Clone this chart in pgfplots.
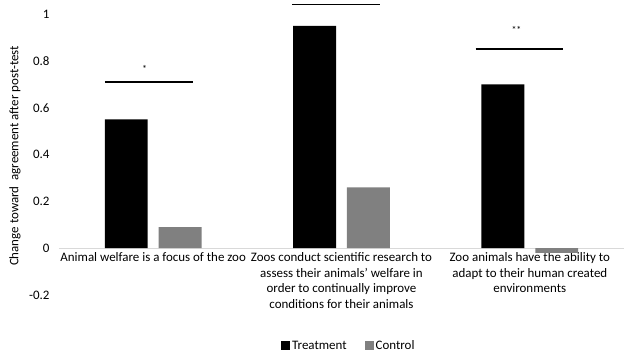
\documentclass[border=0pt]{standalone}
\usepackage{pgfplots}
\pgfplotsset{compat=1.18}
\usepackage{fontspec}
\setmainfont{Carlito}
\definecolor{ctrlgray}{HTML}{808080}
\definecolor{zerogray}{HTML}{D9D9D9}
\begin{document}
\begin{tikzpicture}
\begin{axis}[
  scale only axis,
  width=565bp, height=295bp,
  xmin=-0.5, xmax=2.5,
  ymin=-0.2, ymax=1.06,
  axis x line*=middle,
  axis y line*=left,
  x axis line style={draw=zerogray, line width=1bp, -},
  y axis line style={draw=none},
  xtick={0,1,2},
  xticklabels={
    Animal welfare is a focus of the zoo,
    {Zoos conduct scientific research to\\assess their animals' welfare in\\order to continually improve\\conditions for their animals},
    {Zoo animals have the ability to\\adapt to their human created\\environments}},
  xticklabel style={align=center, font=\fontsize{13}{15.7}\selectfont, anchor=north, yshift=-1bp},
  ytick={-0.2,0,0.2,0.4,0.6,0.8,1},
  yticklabels={-0.2,0,0.2,0.4,0.6,0.8,1},
  yticklabel style={font=\fontsize{13}{15}\selectfont, xshift=-6bp},
  major tick length=0pt,
  ylabel={Change toward\ \ agreement after post-test},
  every axis y label/.style={at={(axis description cs:-0.078,0.471)}, rotate=90, anchor=center, font=\fontsize{13}{15}\selectfont},
  ybar, bar width=0.228,
  clip=false,
  legend style={at={(0.513,-0.173)}, anchor=center, draw=none, legend columns=2,
    font=\fontsize{13}{15}\selectfont,
    /tikz/every even column/.append style={column sep=16bp}},
  legend image code/.code={\fill[#1] (0bp,-3.5bp) rectangle (9bp,5bp);},
]
% Treatment group
\addplot[fill=black, draw=none, bar shift=-0.143] coordinates {(0,0.55) (1,0.95) (2,0.70)};
% Control group
\addplot[fill=ctrlgray, draw=none, bar shift=0.143] coordinates {(0,0.09) (1,0.26) (2,-0.02)};
\legend{Treatment, Control}
% significance brackets
\addplot[sharp plot, black, line width=1.5bp, forget plot] coordinates {(-0.257,0.71) (0.209,0.71)};
\addplot[sharp plot, black, line width=1.5bp, forget plot] coordinates {(0.738,1.04) (1.204,1.04)};
\addplot[sharp plot, black, line width=1.5bp, forget plot] coordinates {(1.712,0.85) (2.177,0.85)};
\node[font=\fontsize{10}{11}\selectfont] at (axis cs:-0.045,0.765) {*};
\node[font=\fontsize{10}{11}\selectfont] at (axis cs:1.929,0.93) {**};
\end{axis}
\pgfresetboundingbox
\useasboundingbox ([xshift=-59bp,yshift=-61bp]current axis.south west) rectangle (current axis.north east);
\end{tikzpicture}
\end{document}
